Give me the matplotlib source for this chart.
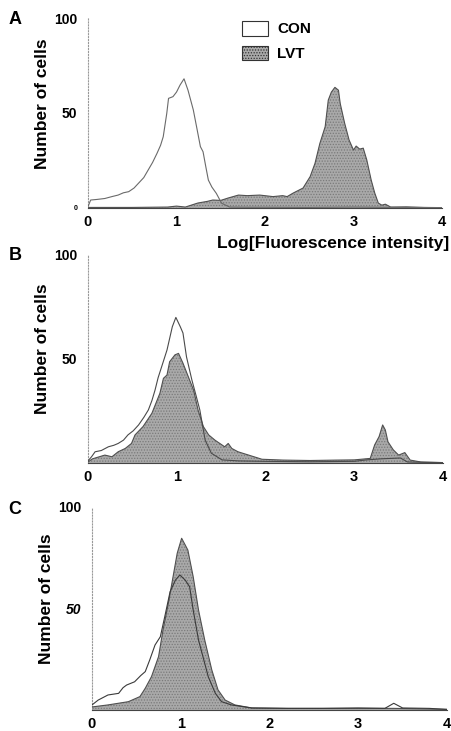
import matplotlib
matplotlib.use("Agg")
import matplotlib.pyplot as plt
from matplotlib.patches import Patch

plt.rcParams['font.family'] = ['Liberation Sans', 'DejaVu Sans']
plt.rcParams['font.weight'] = 'bold'
plt.rcParams['hatch.color'] = '#7a7a7a'
plt.rcParams['hatch.linewidth'] = 0.6

# ---------------- data ----------------
panel_labels = ["A", "B", "C"]
series_names = ["CON", "LVT"]
xlabel_text = "Log[Fluorescence intensity]"
ylabel_text = "Number of cells"
x_ticks = [0, 1, 2, 3, 4]
y_ticks = [50, 100]

a_con_x = [0, 0.03, 0.1, 0.19, 0.27, 0.34, 0.4, 0.46, 0.52, 0.57, 0.63, 0.68, 0.73, 0.78, 0.82, 0.85,
           0.89, 0.91, 0.96, 1.0, 1.04, 1.085, 1.13, 1.19, 1.23, 1.27, 1.30, 1.33, 1.36, 1.40, 1.45,
           1.51, 1.6, 1.8, 2.0, 2.5, 3.0, 3.5, 4.0]
a_con_y = [0.7, 4.2, 4.5, 5, 6, 6.8, 8, 8.6, 10.5, 13, 16, 20, 24, 28.8, 33, 37.5,
           49.8, 57.7, 58.6, 61, 64.7, 68, 62, 51.6, 42, 32.3, 29.6, 22, 14.7, 11, 7.7,
           2.5, 0.5, 0.4, 0.4, 0.3, 0.5, 0.3, 0.2]

a_lvt_x = [0, 0.5, 0.9, 1.0, 1.1, 1.24, 1.35, 1.41, 1.5, 1.58, 1.7, 1.8, 1.94, 2.09, 2.2, 2.25,
           2.32, 2.43, 2.51, 2.565, 2.62, 2.68, 2.715, 2.75, 2.79, 2.83, 2.85, 2.90, 2.95, 3.0,
           3.03, 3.07, 3.11, 3.15, 3.2, 3.24, 3.28, 3.32, 3.36, 3.42, 3.6, 3.8, 4.0]
a_lvt_y = [0.3, 0.3, 0.5, 1, 0.5, 2.6, 3.5, 4.2, 4, 5.2, 6.8, 6.5, 6.8, 6, 6.5, 6,
           7.9, 10.5, 16.5, 23.5, 34, 42.8, 56.8, 61, 63.5, 62, 55, 44.6, 35.8, 30.5,
           32.6, 31, 31.5, 25.3, 14.7, 7.9, 2.6, 1.5, 2, 0.5, 0.6, 0.3, 0.2]

b_con_x = [0, 0.04, 0.08, 0.15, 0.23, 0.29, 0.34, 0.4, 0.45, 0.51, 0.57, 0.63, 0.68, 0.72, 0.755,
           0.79, 0.83, 0.89, 0.95, 0.99, 1.04, 1.07, 1.11, 1.17, 1.22, 1.26, 1.32, 1.39, 1.51,
           1.7, 2.0, 2.5, 3.0, 3.14, 3.3, 3.52, 3.6, 3.8, 4.0]
b_con_y = [1, 3, 5.4, 6, 7.8, 8.5, 9.4, 11, 13.5, 15.5, 18.3, 22, 25.5, 30, 35,
           41, 46.3, 54.3, 65.5, 70, 65.5, 62.5, 51, 40, 32, 25.5, 11, 4.7, 1.5,
           1, 0.8, 0.6, 0.8, 1.5, 2, 2.4, 0.5, 0.3, 0.2]

b_lvt_x = [0, 0.05, 0.19, 0.27, 0.34, 0.42, 0.49, 0.53, 0.62, 0.72, 0.81, 0.85, 0.89, 0.92, 0.98,
           1.02, 1.07, 1.13, 1.19, 1.24, 1.30, 1.36, 1.43, 1.54, 1.58, 1.62, 1.69, 1.81, 1.96,
           2.2, 2.5, 2.8, 3.0, 3.18, 3.23, 3.28, 3.32, 3.35, 3.38, 3.44, 3.50, 3.57, 3.63, 3.75, 4.0]
b_lvt_y = [0.5, 2, 3.8, 3, 5.4, 7, 9.4, 13.5, 17.5, 23.9, 33.5, 40.7, 42.3, 48.7, 52,
           52.7, 48, 41.5, 35, 25.5, 17.5, 13.5, 11, 7.8, 9.4, 7, 5.4, 3.8, 1.8,
           1.4, 1.2, 1.4, 1.5, 2.2, 8.7, 12.7, 18.3, 15.9, 10.2, 6.3, 3.8, 5, 1.4, 0.5, 0.2]

c_con_x = [0, 0.07, 0.18, 0.30, 0.35, 0.39, 0.48, 0.55, 0.60, 0.65, 0.71, 0.77, 0.82, 0.88, 0.94,
           0.99, 1.05, 1.10, 1.14, 1.20, 1.25, 1.31, 1.39, 1.46, 1.57, 1.8, 2.2, 2.6, 3.0, 3.3,
           3.4, 3.5, 3.8, 4.0]
c_con_y = [2.5, 4.9, 7.4, 8.2, 11, 12.3, 13.9, 17, 18.9, 24.6, 32, 36.1, 46, 58.3, 64,
           66.5, 64, 60.7, 49.3, 34.5, 26.3, 16.4, 8.2, 4.1, 2.5, 1, 0.8, 0.8, 1, 0.8,
           3.3, 1, 0.8, 0.3]

c_lvt_x = [0, 0.18, 0.41, 0.54, 0.60, 0.67, 0.75, 0.80, 0.86, 0.92, 0.96, 1.01, 1.05, 1.08, 1.14,
           1.20, 1.27, 1.35, 1.42, 1.50, 1.61, 1.8, 2.2, 2.6, 3.0, 3.4, 3.8, 4.0]
c_lvt_y = [1.5, 2.5, 4.1, 6.6, 10.7, 16.4, 26.3, 39.4, 52.5, 67.3, 77.2, 84.6, 81.3, 78.8, 65.7,
           49.3, 34.5, 19.7, 9.9, 4.9, 2.5, 1, 0.8, 0.8, 0.8, 0.8, 0.5, 0.3]

panels = [
    (a_con_x, a_con_y, a_lvt_x, a_lvt_y),
    (b_con_x, b_con_y, b_lvt_x, b_lvt_y),
    (c_con_x, c_con_y, c_lvt_x, c_lvt_y),
]

# ---------------- layout ----------------
W, H = 452, 731
fig = plt.figure(figsize=(W / 100, H / 100), dpi=100)
# pixel boxes: left, top, right, bottom
boxes = [(88, 18, 442, 208), (88, 255, 443, 463), (92, 507, 447, 710)]
label_pos = [(15, 19), (15, 256), (15, 509)]

fill_face = '#a9a9a9'
con_cols = ['#6a6a6a', '#4a4a4a', '#3a3a3a']

for i, (cx, cy, lx, ly) in enumerate(panels):
    l, t, r, b = boxes[i]
    ax = fig.add_axes([l / W, 1 - b / H, (r - l) / W, (b - t) / H])
    ax.fill_between(lx, ly, 0, facecolor=fill_face, edgecolor='none', hatch='......', zorder=2)
    ax.plot(lx, ly, color='#505050', lw=0.8, zorder=3)
    ax.plot(cx, cy, color=con_cols[i], lw=0.8, zorder=4)
    ax.set_xlim(0, 4)
    ax.set_ylim(0, 100)
    ax.set_xticks(x_ticks)
    ax.set_xticklabels([str(v) for v in x_ticks], fontsize=10.5, fontweight='bold')
    ax.set_yticks(y_ticks)
    ylabels = ax.set_yticklabels([str(v) for v in y_ticks], fontsize=10, fontweight='bold')
    if i == 2:
        ylabels[0].set_style('italic')
    ax.tick_params(axis='both', length=0)
    ax.tick_params(axis='y', pad=8)
    ax.tick_params(axis='x', pad=5)
    for s in ['top', 'right']:
        ax.spines[s].set_visible(False)
    ax.spines['left'].set_color('#999999')
    ax.spines['left'].set_linestyle(':')
    ax.spines['left'].set_linewidth(0.8)
    ax.spines['bottom'].set_color('#444444')
    ax.spines['bottom'].set_linewidth(0.8)
    ax.set_ylabel(ylabel_text, fontsize=12.5, fontweight='bold')
    ax.yaxis.set_label_coords(-0.108, 0.55)
    ax.patch.set_alpha(0)
    fig.text(label_pos[i][0] / W, 1 - label_pos[i][1] / H, panel_labels[i],
             fontsize=13, fontweight='bold', ha='center', va='center')
    if i == 0:
        ax.text(-0.03, 0, "0", fontsize=5, ha='right', va='center',
                transform=ax.get_yaxis_transform())
        handles = [Patch(facecolor='white', edgecolor='#333333', lw=0.8),
                   Patch(facecolor=fill_face, edgecolor='#333333', hatch='......', lw=0.8)]
        ax.legend(handles, series_names, loc='upper left', bbox_to_anchor=(0.435, 0.985),
                  frameon=False, prop={'weight': 'bold', 'size': 11},
                  handlelength=1.7, handleheight=1.1, labelspacing=0.6,
                  handletextpad=0.6, borderpad=0, borderaxespad=0)

fig.text(449 / W, 1 - 244 / H, xlabel_text, fontsize=12.5, fontweight='bold',
         ha='right', va='center')

fig.savefig('out.png', dpi=100, facecolor='white')
